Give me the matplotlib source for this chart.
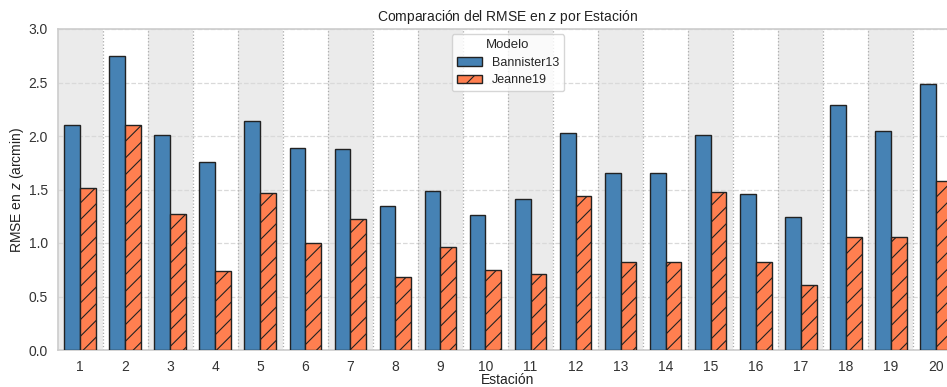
import matplotlib
matplotlib.use("Agg")
import matplotlib.pyplot as plt
import numpy as np
import seaborn as sns

stations = [str(i) for i in range(1, 21)]
bannister13 = [2.10, 2.75, 2.01, 1.76, 2.14, 1.89, 1.88, 1.35, 1.49, 1.26,
               1.41, 2.03, 1.65, 1.65, 2.01, 1.46, 1.24, 2.29, 2.05, 2.49]
jeanne19 = [1.51, 2.10, 1.27, 0.74, 1.47, 1.00, 1.22, 0.68, 0.96, 0.75,
            0.71, 1.44, 0.82, 0.82, 1.48, 0.82, 0.61, 1.06, 1.06, 1.58]
series_names = ["Bannister13", "Jeanne19"]

sns.set_theme(style="whitegrid")
plt.rcParams['font.family'] = ['Liberation Sans', 'DejaVu Sans']
plt.rcParams['mathtext.fontset'] = 'custom'
plt.rcParams['mathtext.it'] = 'Liberation Sans:italic'
plt.rcParams['mathtext.rm'] = 'Liberation Sans'
plt.rcParams['hatch.linewidth'] = 0.8

fig = plt.figure(figsize=(9.47, 3.87), dpi=100)
W, H = 947, 387
left, right, top, bottom = 57.5, 958.5, 29, 350
ax = fig.add_axes([left / W, 1 - bottom / H, (right - left) / W, (bottom - top) / H])

x = np.arange(len(stations))
w = 0.35
ax.bar(x - w / 2, bannister13, w, color="#4682B4", edgecolor="#222222", linewidth=1.0,
       label=series_names[0], zorder=3)
ax.bar(x + w / 2, jeanne19, w, color="#FF7F50", edgecolor="#222222", linewidth=1.0,
       hatch="//", label=series_names[1], zorder=3)

for i in range(len(stations)):
    if i % 2 == 0:
        ax.axvspan(i - 0.5, i + 0.5, color="#ebebeb", zorder=0, lw=0)
    ax.axvline(i + 0.5, color="#aaaaaa", linestyle=":", linewidth=0.9, zorder=1)

ax.set_xlim(-0.5, len(stations) - 0.5)
ax.set_ylim(0, 3.0)
ax.set_yticks(np.arange(0, 3.01, 0.5))
ax.set_xticks(x)
ax.set_xticklabels(stations)
ax.xaxis.grid(False)
ax.yaxis.grid(True, linestyle="--", color="#d9d9d9", linewidth=0.9, zorder=1)
ax.tick_params(axis="both", labelsize=10, colors="#333333", length=0)
ax.tick_params(axis="x", pad=7.5)
ax.tick_params(axis="y", pad=6.8)
for s in ax.spines.values():
    s.set_color("#cccccc")
    s.set_linewidth(1.2)

ax.set_title("Comparación del RMSE en $z$ por Estación", fontsize=10, color="#222222", pad=6)
ax.set_xlabel("Estación", fontsize=10, color="#222222", labelpad=0)
ax.set_ylabel("RMSE en $z$ (arcmin)", fontsize=10, color="#222222")
ax.yaxis.set_label_coords(-(57.5 - 26) / 901, 0.5)
ax.xaxis.set_label_coords(0.5, -(373 - 350) / 321)

leg = ax.legend(title="Modelo", loc="upper center", bbox_to_anchor=(0.5, 1.0),
                borderaxespad=0.4, fontsize=9, title_fontsize=9.5, frameon=True,
                handlelength=2.0, labelspacing=0.45)
leg.get_frame().set_edgecolor("#cccccc")

fig.savefig("out.png", dpi=100)
